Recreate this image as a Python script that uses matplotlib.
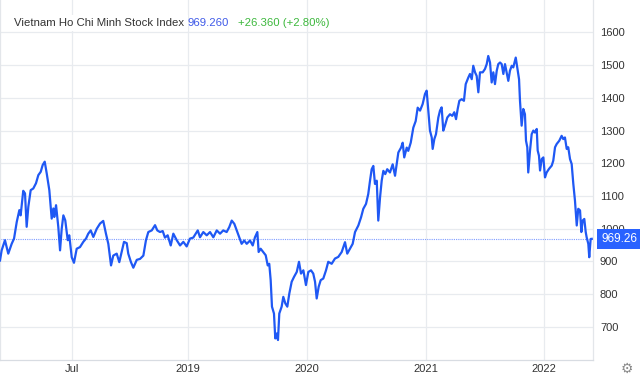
import matplotlib
matplotlib.use("Agg")
import matplotlib.pyplot as plt

plt.rcParams['font.family'] = ['Liberation Sans', 'DejaVu Sans']

# ---- data: Vietnam Ho Chi Minh Stock Index (VN-Index) ----
years = [
    2017.880, 2017.894, 2017.922, 2017.950, 2017.979, 2017.999, 2018.022, 2018.044, 2018.055, 2018.077,
    2018.092, 2018.106, 2018.120, 2018.140, 2018.162, 2018.185, 2018.205, 2018.225, 2018.242, 2018.259,
    2018.276, 2018.298, 2018.318, 2018.332, 2018.340, 2018.355, 2018.374, 2018.389, 2018.403, 2018.417,
    2018.433, 2018.454, 2018.467, 2018.488, 2018.507, 2018.530, 2018.558, 2018.586, 2018.609, 2018.628,
    2018.649, 2018.671, 2018.700, 2018.728, 2018.755, 2018.778, 2018.798, 2018.821, 2018.840, 2018.869,
    2018.891, 2018.911, 2018.931, 2018.954, 2018.967, 2018.990, 2019.010, 2019.039, 2019.067, 2019.095,
    2019.117, 2019.137, 2019.166, 2019.194, 2019.213, 2019.236, 2019.259, 2019.278, 2019.301, 2019.327,
    2019.349, 2019.378, 2019.406, 2019.434, 2019.462, 2019.490, 2019.518, 2019.556,
    2019.575, 2019.603, 2019.632, 2019.660, 2019.688, 2019.717, 2019.745, 2019.772, 2019.801, 2019.823,
    2019.844, 2019.866, 2019.886, 2019.908, 2019.928, 2019.950, 2019.971, 2019.999, 2020.022, 2020.041,
    2020.061, 2020.072, 2020.089, 2020.111, 2020.132, 2020.149, 2020.162, 2020.174, 2020.185, 2020.202,
    2020.213, 2020.225, 2020.236, 2020.247, 2020.267, 2020.281, 2020.298, 2020.315, 2020.332, 2020.352,
    2020.372, 2020.395, 2020.414, 2020.431, 2020.451, 2020.473, 2020.493, 2020.516, 2020.535, 2020.550,
    2020.564, 2020.581, 2020.598, 2020.620, 2020.643, 2020.662, 2020.691, 2020.719, 2020.747, 2020.776,
    2020.804, 2020.823, 2020.846, 2020.869, 2020.889, 2020.917, 2020.940, 2020.959, 2020.982, 2021.001,
    2021.016, 2021.030, 2021.044, 2021.058, 2021.073, 2021.086, 2021.101, 2021.115, 2021.129, 2021.145,
    2021.162, 2021.185, 2021.208, 2021.228, 2021.242, 2021.256, 2021.279, 2021.293, 2021.306, 2021.327,
    2021.340, 2021.361, 2021.383, 2021.403, 2021.420,
    2021.440, 2021.462, 2021.482, 2021.496, 2021.510, 2021.524, 2021.539, 2021.547, 2021.561, 2021.575,
    2021.595, 2021.609, 2021.623, 2021.637, 2021.651, 2021.671, 2021.694, 2021.713, 2021.730, 2021.745,
    2021.759, 2021.773, 2021.793, 2021.812, 2021.827, 2021.849, 2021.863, 2021.878, 2021.891, 2021.906,
    2021.920, 2021.934, 2021.948, 2021.971, 2021.990, 2022.005, 2022.018, 2022.033, 2022.047, 2022.061,
    2022.075, 2022.090, 2022.103, 2022.118, 2022.132, 2022.146, 2022.160, 2022.174, 2022.188, 2022.202,
    2022.217, 2022.230, 2022.251, 2022.264, 2022.279, 2022.287, 2022.301, 2022.315, 2022.329, 2022.338,
    2022.349, 2022.357, 2022.372, 2022.386, 2022.400, 2022.414, 2022.429, 2022.437, 2022.448, 2022.457,
    2022.471, 2022.485, 2022.499, 2022.513, 2022.533, 2022.556, 2022.569, 2022.584, 2022.598, 2022.620,
    2022.640, 2022.654, 2022.668, 2022.683, 2022.696, 2022.711, 2022.725, 2022.739, 2022.753, 2022.768,
    2022.781, 2022.796, 2022.807, 2022.818, 2022.832, 2022.844, 2022.852, 2022.866, 2022.874, 2022.886,
    2022.895,
]
index_values = [
    903, 934, 965, 924, 954, 970, 1021, 1057, 1041, 1116,
    1108, 1006, 1067, 1118, 1123, 1139, 1164, 1174, 1195, 1205,
    1169, 1118, 1031, 1062, 1036, 1072, 1006, 934, 1000, 1041,
    1026, 965, 980, 913, 896, 939, 944, 960, 970, 985,
    995, 975, 1000, 1016, 1024, 985, 954, 888, 918, 924,
    898, 929, 960, 956, 924, 898, 881, 905, 908, 918,
    965, 990, 995, 1011, 995, 990, 993, 973, 980, 949,
    985, 965, 949, 960, 946, 970, 973, 995,
    974, 990, 980, 990, 974, 995, 985, 995, 990, 1005,
    1025, 1015, 995, 974, 954, 964, 954, 964, 949, 974,
    990, 929, 939, 929, 919, 888, 893, 843, 762, 741,
    665, 680, 660, 741, 762, 792, 772, 762, 802, 838,
    853, 868, 899, 863, 873, 828, 868, 873, 863, 838,
    787, 823, 843, 848, 873, 899, 893, 909, 914, 929,
    959, 924, 939, 954, 990, 1010, 1035, 1061, 1076, 1106,
    1147, 1182, 1192, 1137, 1147, 1025, 1096, 1147, 1177, 1167,
    1182, 1172, 1197, 1162, 1197, 1233, 1248, 1263, 1218, 1248,
    1238, 1263, 1309, 1329, 1370,
    1361, 1381, 1412, 1422, 1361, 1300, 1279, 1244, 1274, 1289,
    1340, 1361, 1371, 1300, 1315, 1340, 1350, 1345, 1356, 1335,
    1366, 1391, 1396, 1391, 1442, 1462, 1473, 1457, 1498, 1478,
    1467, 1417, 1478, 1478, 1488, 1503, 1528, 1508, 1447, 1478,
    1442, 1483, 1503, 1508, 1503, 1473, 1503, 1478, 1452, 1483,
    1498, 1493, 1523, 1493, 1457, 1391, 1315, 1366, 1350, 1269,
    1249, 1172, 1239, 1289, 1300, 1294, 1305, 1239, 1223, 1178,
    1213, 1218, 1157, 1172, 1183, 1193, 1208, 1249, 1259, 1269,
    1284, 1274, 1279, 1244, 1249, 1213, 1198, 1137, 1086, 1010,
    1061, 1056, 990, 1025, 1030, 990, 974, 954, 913, 969,
    969.26,
]
last_value = 969.26
title_name = "Vietnam Ho Chi Minh Stock Index"
title_price = "969.260"
title_change = "+26.360 (+2.80%)"
x_tick_labels = ["Jul", "2019", "2020", "2021", "2022"]
y_ticks = [700, 800, 900, 1000, 1100, 1200, 1300, 1400, 1500, 1600]

# ---- styling / layout ----
line_color = "#1f58f4"
grid_color = "#e8ebef"
x_tick_pos = [2018.49, 2019.47, 2020.48, 2021.49, 2022.49]

fig = plt.figure(figsize=(6.4, 3.75), dpi=100)
ax = fig.add_axes([0.0, 0.04, 0.9266, 0.96])

ax.plot(years, index_values, color=line_color, lw=1.6, solid_joinstyle='round', zorder=3)
ax.axhline(last_value, color="#7f9cff", lw=0.8, ls=(0, (1, 1)), zorder=2)

ax.set_xlim(2017.88, 2022.906)
ax.set_ylim(599, 1699)

ax.set_yticks(y_ticks)
ax.set_xticks(x_tick_pos)
ax.set_xticklabels(x_tick_labels)
ax.yaxis.tick_right()
ax.tick_params(axis='y', length=0, pad=5, labelsize=8, labelcolor="#333333")
ax.tick_params(axis='x', length=0, pad=3, labelsize=8, labelcolor="#333333")
for lbl in ax.get_yticklabels():
    lbl.set_horizontalalignment('left')

ax.grid(True, color=grid_color, lw=0.9)
ax.set_axisbelow(True)
ax.spines['top'].set_visible(False)
ax.spines['bottom'].set_color("#d8dce2")
ax.spines['right'].set_color("#e3e6ea")
ax.spines['left'].set_color("#e3e6ea")
for sp in ax.spines.values():
    sp.set_linewidth(0.9)

# price tag on the right axis
ax.text(1.0135, last_value, "969.26", transform=ax.get_yaxis_transform(),
        ha='left', va='center', fontsize=8.5, color='white', clip_on=False, zorder=10,
        bbox=dict(boxstyle='square,pad=0.35', fc="#2962ff", ec='none'))

# title pieces
fig.canvas.draw()
renderer = fig.canvas.get_renderer()
x0 = 14 / 640
ty = 1 - 23 / 375
fs = 8.2
t1 = fig.text(x0, ty, title_name, fontsize=fs, color="#333333", va='center', ha='left',
              bbox=dict(boxstyle='square,pad=0.3', fc='white', ec='none'))
bb = t1.get_window_extent(renderer)
t2 = fig.text((bb.x1 + 3) / 640, ty, title_price, fontsize=fs, color="#3f5ae8", va='center', ha='left')
bb2 = t2.get_window_extent(renderer)
t3 = fig.text((bb2.x1 + 10) / 640, ty, title_change, fontsize=fs, color="#3db83d", va='center', ha='left')

# settings gear
fig.text(627 / 640, 1 - 369 / 375, "\u2699", fontsize=10, color="#8a8a8a", ha='center', va='center',
         family='DejaVu Sans')

fig.savefig("out.png", dpi=100)
